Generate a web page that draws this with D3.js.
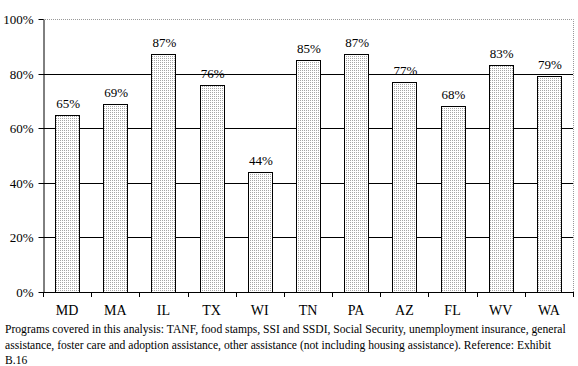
<!DOCTYPE html>
<html><head><meta charset="utf-8">
<script src="https://cdn.jsdelivr.net/npm/d3@7"></script>
<style>body{margin:0;background:#fff}svg{display:block}</style>
</head><body>
<script>
const categories = ["MD","MA","IL","TX","WI","TN","PA","AZ","FL","WV","WA"];
const values = [65,69,87,76,44,85,87,77,68,83,79];
const yTicks = [0,20,40,60,80,100];
const footnote = [
 "Programs covered in this analysis:  TANF, food stamps, SSI and SSDI, Social Security, unemployment insurance, general",
 "assistance, foster care and adoption assistance, other assistance (not including housing assistance).  Reference:  Exhibit",
 "B.16"
];
const W=578,H=366;
const svg=d3.select("body").append("svg").attr("width",W).attr("height",H);
const m={l:43,r:573,t:19,b:292};
const defs=svg.append("defs");
const pat=defs.append("pattern").attr("id","dots").attr("width",2).attr("height",2).attr("patternUnits","userSpaceOnUse");
pat.append("rect").attr("width",2).attr("height",2).attr("fill","#fff");
pat.append("rect").attr("width",1).attr("height",1).attr("fill","#a6a6a6");
const x=d3.scaleBand().domain(categories).range([m.l,m.r]).paddingInner(0.5).paddingOuter(0.25);
const y=d3.scaleLinear().domain([0,100]).range([m.b,m.t]);
const font="'Liberation Serif','Times New Roman',serif";
// plot border (gray)
svg.append("path").attr("d",`M${m.l},${m.t+0.5}H${m.r+0.5}V${m.b}`).attr("fill","none").attr("stroke","#999").attr("stroke-dasharray","1,1");
// gridlines
svg.append("g").selectAll("line").data(yTicks.filter(d=>d>0&&d<100)).join("line")
 .attr("x1",m.l).attr("x2",m.r).attr("y1",d=>Math.round(y(d))+0.5).attr("y2",d=>Math.round(y(d))+0.5)
 .attr("stroke","#000").attr("stroke-width",1);
// bars
svg.append("g").selectAll("rect").data(values).join("rect")
 .attr("x",(d,i)=>Math.round(x(categories[i]))+0.5).attr("width",Math.round(x.bandwidth()))
 .attr("y",d=>Math.round(y(d))+0.5).attr("height",d=>m.b-Math.round(y(d)))
 .attr("fill","url(#dots)").attr("stroke","#000").attr("stroke-width",1);
// labels
svg.append("g").selectAll("text").data(values).join("text")
 .attr("x",(d,i)=>x(categories[i])+x.bandwidth()/2+1).attr("y",d=>y(d)-7)
 .attr("text-anchor","middle").attr("font-family",font).attr("font-size",13).text(d=>d+"%");
// y axis
const ya=d3.axisLeft(y).tickValues(yTicks).tickFormat(d=>d+"%").tickSize(5).tickSizeOuter(0);
const gy=svg.append("g").attr("transform",`translate(${m.l+0.5},0)`).call(ya);
gy.selectAll("text").attr("font-family",font).attr("font-size",13).attr("fill","#000").attr("dx","-2");
gy.selectAll("line,path").attr("stroke","#000");
gy.selectAll(".tick").attr("transform",d=>`translate(0,${Math.round(y(d))+0.5})`);
// x axis
const bounds=d3.range(categories.length+1).map(i=>m.l+i*(m.r-m.l)/categories.length);
svg.append("line").attr("x1",m.l).attr("x2",m.r).attr("y1",m.b+0.5).attr("y2",m.b+0.5).attr("stroke","#000");
svg.append("g").selectAll("line").data(bounds).join("line")
 .attr("x1",d=>Math.round(d)+0.5).attr("x2",d=>Math.round(d)+0.5).attr("y1",m.b).attr("y2",m.b+5).attr("stroke","#000");
svg.append("g").selectAll("text").data(categories).join("text")
 .attr("x",d=>x(d)+x.bandwidth()/2).attr("y",m.b+23).attr("text-anchor","middle")
 .attr("font-family",font).attr("font-size",14).text(d=>d);
// footnote
svg.append("g").selectAll("text").data(footnote).join("text")
 .attr("x",5).attr("y",(d,i)=>333+i*15.5).attr("font-family",font).attr("font-size",11.6).text(d=>d);
</script>
</body></html>
